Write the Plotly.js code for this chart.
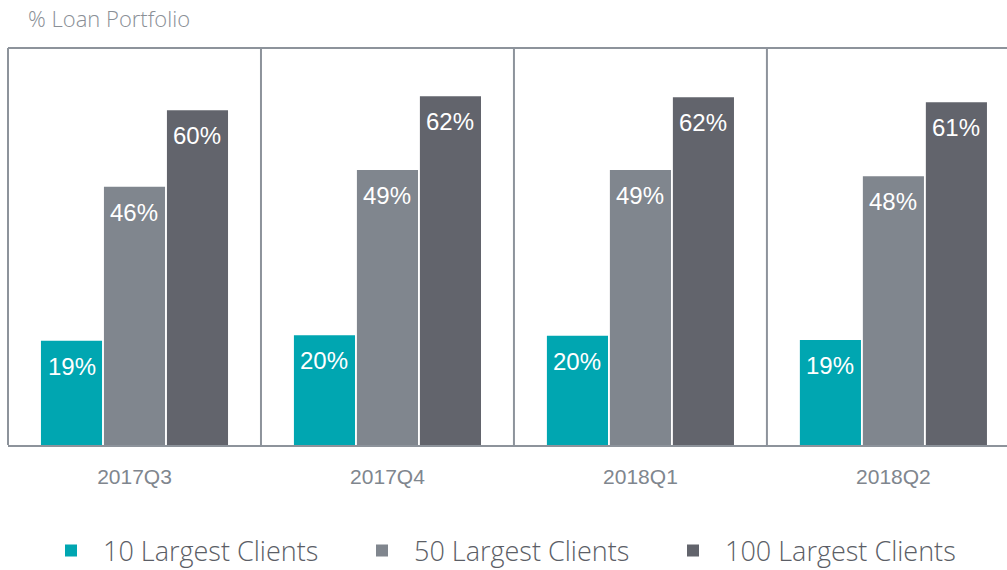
<!DOCTYPE html>
<html>
<head>
<meta charset="utf-8">
<script src="https://cdn.plot.ly/plotly-3.0.1.min.js"></script>
<style>html,body{margin:0;padding:0;background:#fff;}#chart{width:1007px;height:570px;}</style>
</head>
<body>
<div id="chart"></div>
<script>
const categories = ['2017Q3', '2017Q4', '2018Q1', '2018Q2'];
const seriesNames = ['10 Largest Clients', '50 Largest Clients', '100 Largest Clients'];
const top10 = [18.6, 19.6, 19.5, 18.75];
const top50 = [46.1, 49.1, 49.1, 48.0];
const top100 = [59.8, 62.3, 62.1, 61.2];
const seriesValues = [top10, top50, top100];
const colors = ['#00a6b1', '#80868e', '#62646c'];

const BARGAP = 0.253, GROUPGAP = 0.03;
const slot = (1 - BARGAP) / 3;

const traces = seriesValues.map((vals, j) => ({
  type: 'bar',
  name: seriesNames[j],
  x: categories,
  y: vals,
  marker: {color: colors[j], line: {width: 0}},
  hoverinfo: 'skip'
}));

const annotations = [];
seriesValues.forEach((vals, j) => {
  vals.forEach((v, i) => {
    annotations.push({
      xref: 'x', yref: 'y',
      x: i + (j - 1) * slot, y: v,
      text: Math.round(v) + '%',
      showarrow: false,
      yanchor: 'top', xanchor: 'center',
      yshift: -10,
      font: {family: 'Liberation Sans, Arial, sans-serif', size: 24, color: '#ffffff'}
    });
  });
});

const lineColor = '#8d939b';
const shapes = [
  {type: 'line', xref: 'paper', yref: 'paper', x0: 0, x1: 1, y0: 1, y1: 1, line: {color: lineColor, width: 2}},
  {type: 'line', xref: 'paper', yref: 'paper', x0: 0, x1: 0, y0: 0, y1: 1, line: {color: lineColor, width: 2}}
];
[0.5, 1.5, 2.5].forEach(b => shapes.push({type: 'line', xref: 'x', yref: 'paper', x0: b, x1: b, y0: 0, y1: 1, line: {color: lineColor, width: 2}}));

const layout = {
  width: 1007, height: 570,
  margin: {l: 8, r: 0, t: 48, b: 125},
  paper_bgcolor: '#ffffff', plot_bgcolor: '#ffffff',
  barmode: 'group', bargap: BARGAP, bargroupgap: GROUPGAP,
  title: {
    text: '% Loan Portfolio',
    x: 28 / 1007, xanchor: 'left', xref: 'container',
    y: 1 - 12 / 570, yanchor: 'top', yref: 'container',
    font: {family: 'Open Sans, sans-serif', size: 22, weight: 300, color: '#8a8f96'}
  },
  xaxis: {
    type: 'category',
    range: [-0.5, 3.449],
    showline: true, linecolor: lineColor, linewidth: 2,
    showgrid: false, zeroline: false, ticks: '',
    tickfont: {family: 'Liberation Sans, Arial, sans-serif', size: 21, color: '#80868e'},
    ticklabelstandoff: 12
  },
  yaxis: {
    range: [0, 70.9], visible: false, showgrid: false, zeroline: false
  },
  showlegend: true,
  legend: {
    orientation: 'h', x: 31 / 999, xanchor: 'left', y: 19 / 570, yref: 'container', yanchor: 'middle',
    font: {family: 'Open Sans, sans-serif', size: 27, weight: 300, color: '#5b5e66'},
    itemwidth: 54, entrywidth: 242, entrywidthmode: 'pixels', traceorder: 'normal'
  },
  annotations: annotations,
  shapes: shapes
};

Plotly.newPlot('chart', traces, layout, {displayModeBar: false, staticPlot: true});
</script>
</body>
</html>
